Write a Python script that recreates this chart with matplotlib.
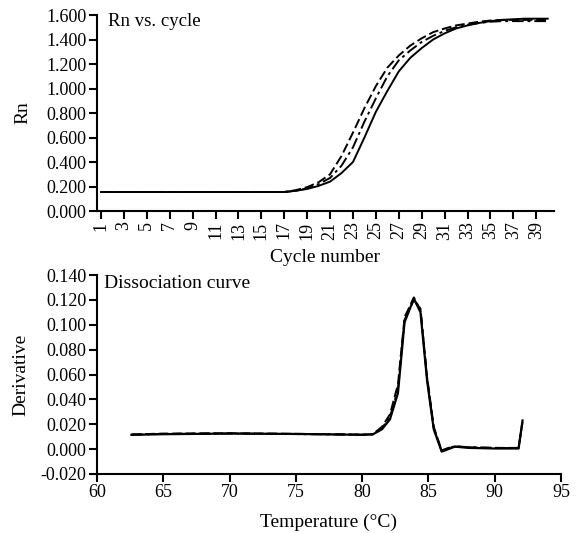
import numpy as np
import matplotlib.pyplot as plt

plt.rcParams['font.family'] = ['Liberation Serif', 'DejaVu Serif']
plt.rcParams['font.size'] = 13

# ---- amplification data (Rn vs cycle) ----
cycles = list(range(1, 41))
rn_solid = [0.155] * 17 + [0.165, 0.18, 0.205, 0.24, 0.31, 0.40, 0.60, 0.81, 0.98,
                           1.14, 1.25, 1.33, 1.40, 1.45, 1.49, 1.515, 1.535, 1.55, 1.56,
                           1.565, 1.57, 1.57, 1.57]
rn_dash = [0.155] * 17 + [0.17, 0.195, 0.235, 0.30, 0.45, 0.64, 0.84, 1.02, 1.17,
                          1.27, 1.35, 1.41, 1.46, 1.49, 1.515, 1.53, 1.545, 1.555, 1.56,
                          1.56, 1.56, 1.56, 1.56]
rn_dashdot = [0.155] * 17 + [0.165, 0.185, 0.22, 0.27, 0.37, 0.52, 0.73, 0.92, 1.10,
                             1.23, 1.31, 1.38, 1.43, 1.47, 1.50, 1.52, 1.535, 1.545, 1.55,
                             1.55, 1.55, 1.55, 1.55]

# ---- dissociation (melt) curve data ----
temps = [62.6, 65, 70, 75, 80, 80.8, 81.5, 82.1, 82.7, 83.2, 83.9, 84.4, 84.9,
         85.4, 86.0, 86.5, 87.0, 88, 90, 91.8, 92.1]
der_solid = [0.0115, 0.012, 0.0125, 0.0122, 0.0115, 0.0118, 0.016, 0.024, 0.045,
             0.102, 0.121, 0.110, 0.055, 0.016, -0.002, 0.000, 0.002, 0.001,
             0.0005, 0.0005, 0.023]
der_dash = [0.0118, 0.0125, 0.0128, 0.0123, 0.0117, 0.0120, 0.018, 0.028, 0.052,
            0.106, 0.122, 0.112, 0.058, 0.018, -0.001, 0.001, 0.002, 0.0015,
            0.001, 0.001, 0.022]
der_dashdot = [0.0116, 0.0122, 0.0126, 0.0121, 0.0116, 0.0119, 0.017, 0.026, 0.048,
               0.104, 0.120, 0.113, 0.057, 0.017, -0.0015, 0.0005, 0.0025, 0.0015,
               0.001, 0.0008, 0.0225]

W, H = 576, 533
fig = plt.figure(figsize=(W / 100, H / 100), dpi=100)


def px_axes(x0, y0, x1, y1):
    # pixel box (from top-left) -> figure fraction
    return fig.add_axes([x0 / W, 1 - y1 / H, (x1 - x0) / W, (y1 - y0) / H])


def style(ax):
    for s in ('top', 'right'):
        ax.spines[s].set_visible(False)
    for s in ('left', 'bottom'):
        ax.spines[s].set_linewidth(1.5)
    ax.tick_params(direction='out', length=6, width=1.5, pad=1.5)


# ---------- top panel ----------
ax1 = px_axes(97, 15, 554, 211)
ax1.plot(cycles, rn_solid, color='black', lw=1.4, ls='-')
ax1.plot(cycles, rn_dash, color='black', lw=1.4, ls=(0, (5, 2)))
ax1.plot(cycles, rn_dashdot, color='black', lw=1.4, ls=(0, (6, 2, 1.5, 2)))
ax1.set_xlim(0.65, 40.55)
ax1.set_ylim(0, 1.6)
ax1.set_xticks(cycles[::2])
ax1.set_xticklabels([str(c) for c in cycles[::2]], rotation=90)
ax1.set_yticks(np.arange(0, 1.61, 0.2))
ax1.set_yticklabels(['%.3f' % v for v in np.arange(0, 1.61, 0.2)])
ax1.set_xlabel('Cycle number', fontsize=14, labelpad=7)
ax1.set_ylabel('Rn', fontsize=14, labelpad=11)
ax1.text(0.025, 1.01, 'Rn vs. cycle', transform=ax1.transAxes, va='top', ha='left', fontsize=13.5)
style(ax1)

# ---------- bottom panel ----------
ax2 = px_axes(97, 275, 561, 474)
ax2.plot(temps, der_solid, color='black', lw=1.6, ls='-')
ax2.plot(temps, der_dash, color='black', lw=1.4, ls=(0, (5, 2)))
ax2.plot(temps, der_dashdot, color='black', lw=1.4, ls=(0, (6, 2, 1.5, 2)))
ax2.set_xlim(60, 95)
ax2.set_ylim(-0.02, 0.14)
ax2.set_xticks(range(60, 96, 5))
yt = np.arange(-0.02, 0.141, 0.02)
ax2.set_yticks(yt)
ax2.set_yticklabels(['%.3f' % v if abs(v) > 1e-9 else '0.000' for v in yt])
ax2.set_xlabel('Temperature (°C)', fontsize=14, labelpad=9)
ax2.set_ylabel('Derivative', fontsize=14, labelpad=8)
ax2.text(0.015, 1.0, 'Dissociation curve', transform=ax2.transAxes, va='top', ha='left', fontsize=14)
style(ax2)

fig.savefig('out.png', dpi=100)
